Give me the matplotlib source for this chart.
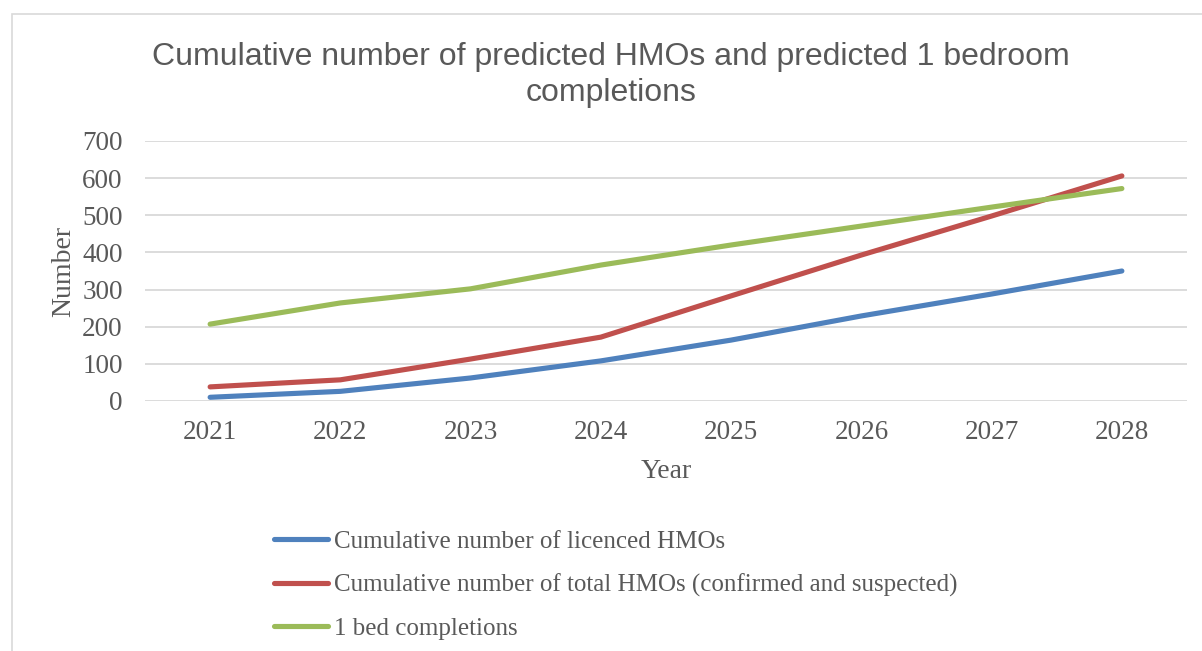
import matplotlib.pyplot as plt
from matplotlib.patches import Rectangle

years = ["2021", "2022", "2023", "2024", "2025", "2026", "2027", "2028"]
licenced = [10, 26, 62, 108, 164, 229, 288, 350]
total = [38, 57, 113, 172, 283, 393, 498, 606]
one_bed = [207, 264, 302, 366, 420, 471, 522, 572]
labels = ["Cumulative number of licenced HMOs",
          "Cumulative number of total HMOs (confirmed and suspected)",
          "1 bed completions"]
colors = ["#4F81BD", "#C0504D", "#9BBB59"]

W, H = 1202, 651
fig = plt.figure(figsize=(W / 100, H / 100), dpi=100)
grey = "#595959"
serif = "Liberation Serif"

# chart frame
fig.patches.append(Rectangle((12 / W, -0.1), 1.2, 1 - 14 / H + 0.1, transform=fig.transFigure,
                             fill=False, edgecolor="#D9D9D9", linewidth=1.2))

ax = fig.add_axes([145 / W, 1 - 401 / H, (1187 - 145) / W, (401 - 141) / H])
x = range(len(years))
for vals, lab, c in zip([licenced, total, one_bed], labels, colors):
    ax.plot(x, vals, color=c, lw=3.7, solid_capstyle="round", label=lab)

ax.set_xlim(-0.5, len(years) - 0.5)
ax.set_ylim(0, 700)
ax.set_yticks(range(0, 701, 100))
ax.set_xticks(list(x))
ax.set_xticklabels(years)
ax.grid(axis="y", color="#D9D9D9", lw=1.3)
ax.set_axisbelow(True)
for s in ax.spines.values():
    s.set_visible(False)
ax.tick_params(length=0, labelsize=19.5, labelcolor=grey)
ax.tick_params(axis="y", pad=16)
ax.tick_params(axis="x", pad=14)
for t in ax.get_xticklabels() + ax.get_yticklabels():
    t.set_family(serif)
ax.set_xlabel("Year", family=serif, fontsize=20, color=grey, labelpad=10)
ax.set_ylabel("Number", family=serif, fontsize=20, color=grey, labelpad=4)

fig.text(611 / W, 1 - 75 / H, "Cumulative number of predicted HMOs and predicted 1 bedroom\ncompletions",
         ha="center", va="center", fontsize=23, color=grey, family="Liberation Sans", linespacing=1.25)

leg = fig.legend(loc="upper left", bbox_to_anchor=(251 / W, 1 - 508 / H), frameon=False,
                 prop={"family": serif, "size": 18}, labelcolor=grey,
                 handlelength=2.16, handletextpad=0.24, labelspacing=0.82)

fig.savefig("out.png", dpi=100)
